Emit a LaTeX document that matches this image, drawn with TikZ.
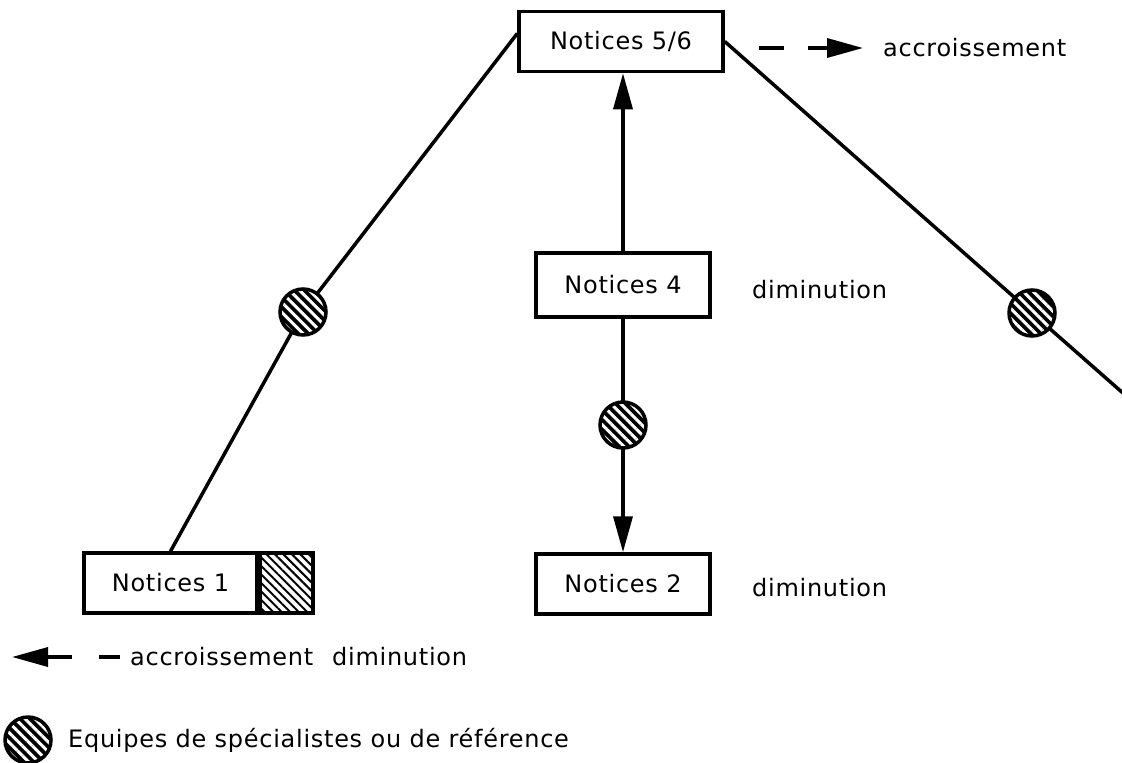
\documentclass[tikz,border=0pt]{standalone}
\usepackage{fontspec}
\setmainfont[LetterSpace=3]{DejaVu Sans}
\usepackage{tikz}
\usetikzlibrary{arrows.meta,positioning,patterns.meta}
\tikzset{
  notice/.style={draw, line width=3.5pt, rectangle, minimum height=60pt, inner sep=0pt,
    font=\fontsize{24}{28}\selectfont},
  lbl/.style={inner sep=0pt, anchor=west, font=\fontsize{24}{28}\selectfont},
  spec/.style={circle, minimum size=46pt, inner sep=0pt, fill=black,
    postaction={pattern color=white, pattern={Lines[angle=-45,distance=7pt,line width=3pt]}},
    postaction={draw=black, line width=3.5pt}},
  link/.style={line width=3.5pt},
  tip/.style={-{Triangle[length=36pt,width=19pt]}},
}

\begin{document}
\begin{tikzpicture}[x=1pt,y=-1pt]
  \useasboundingbox (0,0) rectangle (1122,763);
  % boxes
  \node[notice, minimum width=204pt] (n56) at (621,41.5) {Notices 5/6};
  \node[notice, minimum width=174pt, minimum height=64pt] (n4) at (623,285) {Notices 4};
  \node[notice, minimum width=174pt] (n2) at (623,584) {Notices 2};
  \node[notice, minimum width=173pt] (n1) at (170.5,583) {Notices 1};
  \node[notice, minimum width=53pt, anchor=west,
    pattern={Lines[angle=-45,distance=6pt,line width=2pt]}] (n1h) at (n1.east) {};
  % specialist teams
  \node[spec] (c1) at (303,312) {};
  \node[spec] (c2) at (623,425) {};
  \node[spec] (c3) at (1032,313) {};
  \node[spec] (cl) at (28,740) {};
  \coordinate (rend) at (1124,394);
  % labels
  \node[lbl] (d4) at (752,290) {diminution};
  \node[lbl] (d2) at (752,588) {diminution};
  \node[lbl] (atop) at (883,48) {accroissement};
  \node[lbl] (abot) at (130,657) {accroissement};
  \node[lbl] (dbot) at (332,657) {diminution};
  \node[lbl] (leg) at (68,740) {Equipes de spécialistes ou de référence};
  \coordinate (ltip) at (12,657);
  % links
  \draw[link] ([yshift=8pt]n56.west) -- (c1) -- (n1.north);
  \draw[link] (n56.east) -- (c3) -- (rend);
  \draw[link, tip] (n4.north) -- (n4.north |- n56.south);
  \draw[link] (n4.south) -- (c2);
  \draw[link, tip] (c2) -- (n2.north);
  % accroissement arrows, dash then solid
  \draw[link, tip, dash pattern=on 25pt off 24pt on 300pt, shorten <=34pt, shorten >=20pt]
    (n56.east |- atop.west) -- (atop.west);
  \draw[link, tip, dash pattern=on 21pt off 27pt on 300pt, shorten <=10pt] (abot.west) -- (ltip);
\end{tikzpicture}
\end{document}
